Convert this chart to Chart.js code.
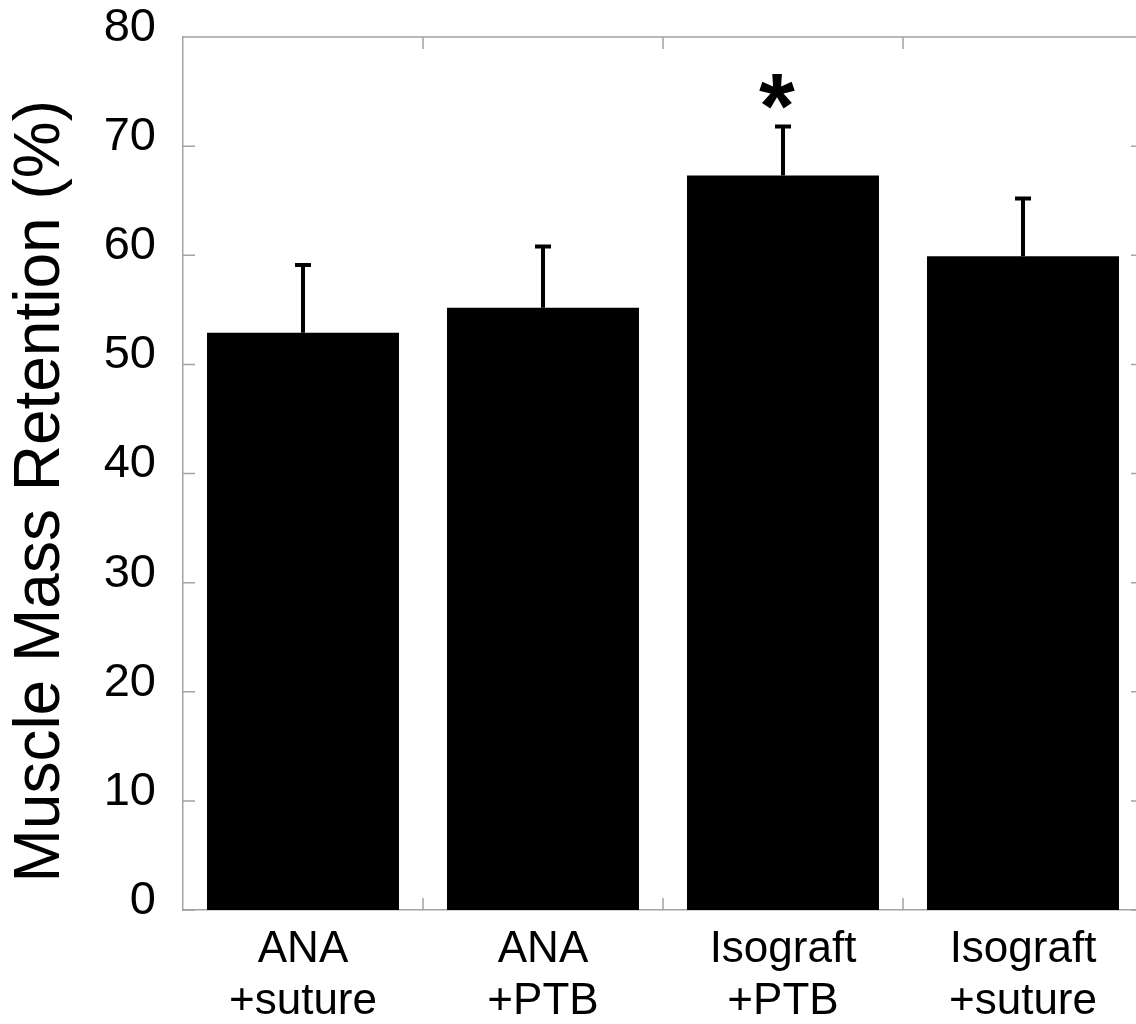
<!DOCTYPE html>
<html>
<head>
<meta charset="utf-8">
<script src="https://cdn.jsdelivr.net/npm/chart.js@4.4.1/dist/chart.umd.min.js"></script>
<style>
  html, body { margin: 0; padding: 0; background: #fff; overflow: hidden; }
  #wrap { width: 1160px; height: 1024px; }
</style>
</head>
<body>
<div id="wrap"><canvas id="chart" width="1160" height="1024"></canvas></div>
<script>
// Data
const groups = [['ANA', '+suture'], ['ANA', '+PTB'], ['Isograft', '+PTB'], ['Isograft', '+suture']];
const retention = [52.9, 55.2, 67.3, 59.9];
const errorUp = [6.2, 5.6, 4.5, 5.3];
const marks = ['', '', '*', ''];
const yMin = 0;
const yMax = 80;
const yStep = 10;

const axisColor = '#a3a3a3';
const font = 'Liberation Sans, Arial, Helvetica, sans-serif';

// inward tick marks + top/right frame
const framePlugin = {
    id: 'frame',
    afterDraw(chart) {
        const { ctx, chartArea: a, scales: { x, y } } = chart;
        ctx.save();
        ctx.strokeStyle = axisColor;
        ctx.lineWidth = 1.5;
        ctx.beginPath();
        ctx.moveTo(a.left, a.top); ctx.lineTo(a.right, a.top);
        ctx.moveTo(a.right, a.top); ctx.lineTo(a.right, a.bottom);
        // y ticks (left + right)
        for (let v = yMin; v <= yMax; v += yStep) {
            const py = y.getPixelForValue(v);
            ctx.moveTo(a.left, py); ctx.lineTo(a.left + 12, py);
            ctx.moveTo(a.right, py); ctx.lineTo(a.right - 12, py);
        }
        // category boundary ticks (top + bottom)
        for (let i = 0; i < groups.length - 1; i++) {
            const px = (x.getPixelForValue(i) + x.getPixelForValue(i + 1)) / 2;
            ctx.moveTo(px, a.top); ctx.lineTo(px, a.top + 12);
            ctx.moveTo(px, a.bottom); ctx.lineTo(px, a.bottom - 12);
        }
        ctx.stroke();
        ctx.restore();
    }
};

// upper error bars and significance marks
const errorPlugin = {
    id: 'errorBars',
    afterDatasetsDraw(chart) {
        const { ctx, scales: { y } } = chart;
        const meta = chart.getDatasetMeta(0);
        ctx.save();
        ctx.strokeStyle = '#000';
        ctx.fillStyle = '#000';
        ctx.lineWidth = 4;
        meta.data.forEach((bar, i) => {
            const top = y.getPixelForValue(retention[i] + errorUp[i]);
            ctx.beginPath();
            ctx.moveTo(bar.x, bar.y);
            ctx.lineTo(bar.x, top);
            ctx.moveTo(bar.x - 8, top);
            ctx.lineTo(bar.x + 8, top);
            ctx.stroke();
            if (marks[i]) {
                ctx.font = `bold 92px ${font}`;
                ctx.textAlign = 'center';
                ctx.textBaseline = 'alphabetic';
                ctx.fillText(marks[i], bar.x - 6, top + 12);
            }
        });
        ctx.restore();
    }
};

new Chart(document.getElementById('chart'), {
    type: 'bar',
    data: {
        labels: groups,
        datasets: [{
            data: retention,
            backgroundColor: '#000',
            borderWidth: 0,
            categoryPercentage: 0.8,
            barPercentage: 1.0
        }]
    },
    options: {
        responsive: false,
        animation: false,
        layout: { padding: { top: 37, right: 17, left: 0, bottom: 0 } },
        plugins: { legend: { display: false }, tooltip: { enabled: false } },
        scales: {
            x: {
                grid: { display: false },
                border: { display: true, color: axisColor, width: 1.5 },
                ticks: {
                    color: '#000',
                    padding: 5,
                    font: { family: font, size: 44, lineHeight: 1.2 },
                    maxRotation: 0,
                    autoSkip: false
                },
                afterFit(scale) { scale.height = 114; }
            },
            y: {
                min: yMin,
                max: yMax,
                grid: { display: false },
                border: { display: true, color: axisColor, width: 1.5 },
                ticks: {
                    stepSize: yStep,
                    color: '#000',
                    padding: 19,
                    labelOffset: -9,
                    font: { family: font, size: 47, lineHeight: 0.5 }
                },
                title: {
                    display: true,
                    text: 'Muscle Mass Retention (%)  ',
                    color: '#000',
                    padding: { top: 3, bottom: 0 },
                    font: { family: font, size: 64 }
                },
                afterFit(scale) { scale.width = 183; }
            }
        }
    },
    plugins: [framePlugin, errorPlugin]
});
</script>
</body>
</html>
